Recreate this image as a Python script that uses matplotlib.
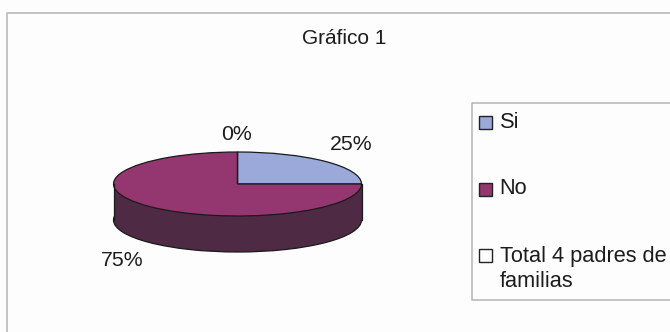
import matplotlib
matplotlib.use('Agg')
import matplotlib.pyplot as plt
from matplotlib.patches import Rectangle

plt.rcParams['font.family'] = ['Liberation Sans', 'DejaVu Sans']

# Survey results
title = 'Gráfico 1'
categories = ['Si', 'No', 'Total 4 padres de\nfamilias']
values = [25, 75, 0]
colors = ['#9aa9d9', '#94366f', '#ffffff']
side_color = '#4f2a45'
text_color = '#1c1c1c'
line_color = '#1a1a1a'

W, H = 670, 332
fig = plt.figure(figsize=(W / 100, H / 100), dpi=100, facecolor='#fdfdfd')

# overlay in pixel coordinates for the frame, legend and labels
bg = fig.add_axes([0, 0, 1, 1])
bg.set_xlim(0, W)
bg.set_ylim(H, 0)
bg.axis('off')
bg.plot([7, 7, W], [H, 13, 13], color='#c4c4c4', lw=1.4)

bg.text(344, 38, title, ha='center', va='center', fontsize=15, color=text_color)

# squashed pie: 124 px wide radius, 32 px high radius
cx, cy, rx, ry, depth = 237.5, 184, 124, 32, 36
ax = fig.add_axes([(cx - rx * 1.2) / W, 1 - (cy + depth + ry * 1.2) / H,
                   rx * 2.4 / W, (ry * 2.4 + depth) / H])
ax.patch.set_alpha(0)
d = depth / ry

# side wall first, then the top face over it
ax.pie([sum(values)], colors=[side_color], center=(0, -d), radius=1,
       wedgeprops=dict(edgecolor=line_color, linewidth=0.9))
ax.fill_between([-1, 1], [-d, -d], [0, 0], color=side_color, lw=0)
ax.plot([-1, -1], [-d, 0], color=line_color, lw=0.9)
ax.plot([1, 1], [-d, 0], color=line_color, lw=0.9)
ax.pie(values, colors=colors, startangle=90, counterclock=False,
       wedgeprops=dict(edgecolor=line_color, linewidth=0.9))
ax.set_aspect('auto')
ax.set_xlim(-1.2, 1.2)
ax.set_ylim(-1.2 - d, 1.2)

label_pos = [(351, 144), (122.5, 261), (237, 134)]
for v, (lx, ly) in zip(values, label_pos):
    bg.text(lx, ly, f'{v}%', ha='center', va='center', fontsize=15.3, color=text_color)

# legend box runs off the right edge
bg.plot([W, 472, 472, W], [103, 103, 300, 300], color='#b4b4b4', lw=1.1)
swatch_y = [122, 189, 255]
text_y = [112, 178, 246]
for name, col, sy, ty in zip(categories, colors, swatch_y, text_y):
    bg.add_patch(Rectangle((478.5, sy - 6.5), 13, 13, facecolor=col, edgecolor='#222222', lw=1.0))
    bg.text(499.5, ty, name, ha='left', va='top', fontsize=15.7, color=text_color, linespacing=1.22)

fig.savefig('out.png', dpi=100, facecolor=fig.get_facecolor())
